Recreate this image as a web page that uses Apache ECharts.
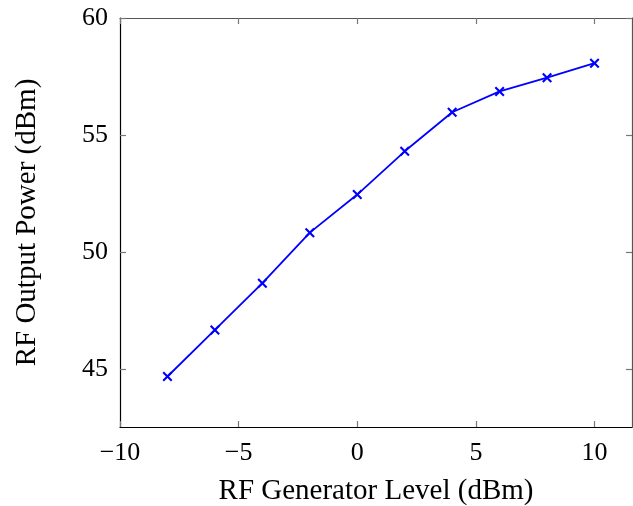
<!DOCTYPE html>
<html>
<head>
<meta charset="utf-8">
<script src="https://cdn.jsdelivr.net/npm/echarts@6/dist/echarts.min.js"></script>
<style>
html,body{margin:0;padding:0;background:#fff;}
#c{width:633px;height:506px;}
</style>
</head>
<body>
<div id="c"></div>
<script>
const generatorLevel = [-8, -6, -4, -2, 0, 2, 4, 6, 8, 10];
const outputPower = [44.67, 46.66, 48.66, 50.82, 52.45, 54.30, 55.97, 56.86, 57.45, 58.07];
const xTicks = [-10, -5, 0, 5, 10];
const yTicks = [45, 50, 55, 60];
const xTitle = 'RF Generator Level (dBm)';
const yTitle = 'RF Output Power (dBm)';

const FONT = 'Liberation Serif';
const chart = echarts.init(document.getElementById('c'), null, {renderer: 'canvas'});
const fmt = v => {
  const r = Math.round(v);
  return r < 0 ? '\u2212' + Math.abs(r) : String(r);
};
const cross = 'path://M0,1.5L1.5,0L5,3.5L8.5,0L10,1.5L6.5,5L10,8.5L8.5,10L5,6.5L1.5,10L0,8.5L3.5,5Z';

chart.setOption({
  animation: false,
  grid: {left: 120, right: 1, top: 18, bottom: 79, containLabel: false, outerBoundsMode: 'none'},
  xAxis: [{
    type: 'value', position: 'bottom', min: -10, max: 11.58, interval: 5,
    axisLine: {show: true, onZero: false, lineStyle: {color: '#000', width: 1.2}},
    axisTick: {show: true, inside: true, length: 6, lineStyle: {color: '#777', width: 1.2},
      customValues: xTicks},
    axisLabel: {show: true, margin: 13, color: '#000', fontFamily: FONT, fontSize: 26,
      customValues: xTicks, formatter: fmt},
    splitLine: {show: false},
    name: xTitle, nameLocation: 'middle', nameGap: 50,
    nameTextStyle: {color: '#000', fontFamily: FONT, fontSize: 29}
  }, {
    type: 'value', position: 'top', min: -10, max: 11.58, interval: 5,
    axisLine: {show: true, onZero: false, lineStyle: {color: '#555', width: 1.2}},
    axisTick: {show: true, inside: true, length: 6, lineStyle: {color: '#777', width: 1.2},
      customValues: xTicks},
    axisLabel: {show: false}, splitLine: {show: false}
  }],
  yAxis: [{
    type: 'value', position: 'left', min: 42.51, max: 60, interval: 5,
    axisLine: {show: true, onZero: false, lineStyle: {color: '#000', width: 1.2}},
    axisTick: {show: true, inside: true, length: 6, lineStyle: {color: '#777', width: 1.2},
      customValues: yTicks},
    axisLabel: {show: true, margin: 12, color: '#000', fontFamily: FONT, fontSize: 26,
      customValues: yTicks, formatter: fmt},
    splitLine: {show: false},
    name: yTitle, nameLocation: 'middle', nameGap: 78, nameRotate: 90,
    nameTextStyle: {color: '#000', fontFamily: FONT, fontSize: 29}
  }, {
    type: 'value', position: 'right', min: 42.51, max: 60, interval: 5,
    axisLine: {show: true, onZero: false, lineStyle: {color: '#555', width: 1.2}},
    axisTick: {show: true, inside: true, length: 6, lineStyle: {color: '#777', width: 1.2},
      customValues: yTicks},
    axisLabel: {show: false}, splitLine: {show: false}
  }],
  series: [{
    type: 'line',
    xAxisIndex: 0, yAxisIndex: 0,
    data: generatorLevel.map((x, i) => [x, outputPower[i]]),
    lineStyle: {color: '#0000ff', width: 1.8},
    itemStyle: {color: '#0000ff'},
    symbol: cross, symbolSize: 10,
    showSymbol: true
  }]
});
</script>
</body>
</html>
